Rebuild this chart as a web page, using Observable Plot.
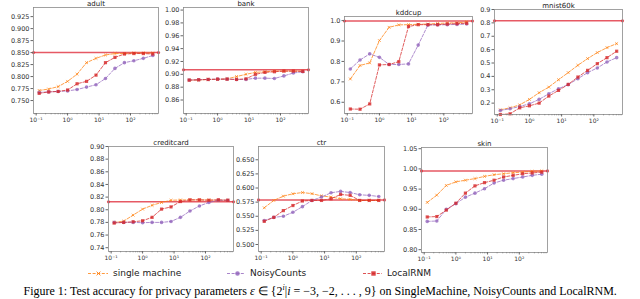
<!DOCTYPE html>
<html><head><meta charset="utf-8">
<script src="https://cdn.jsdelivr.net/npm/d3@7"></script>
<script src="https://cdn.jsdelivr.net/npm/@observablehq/plot@0.6"></script>
<style>
html,body{margin:0;padding:0;background:#fff;width:640px;height:299px;overflow:hidden;position:relative;}
.panel{position:absolute}
.leg{position:absolute;top:268px;font-family:"DejaVu Sans";font-size:9px;color:#222;display:flex;align-items:center;white-space:nowrap}
.leg svg{margin-right:5px}
.cap{position:absolute;top:284px;left:0;font-family:"Liberation Serif";font-size:12px;color:#000;white-space:nowrap;line-height:14px}
.cap sup{font-size:8px;line-height:0;vertical-align:5px}
</style></head><body>
<script>
// ---- data ----
const eps = [0.125, 0.25, 0.5, 1, 2, 4, 8, 16, 32, 64, 128, 256, 512];
const methods = ["single machine", "NoisyCounts", "LocalRNM"];
const datasets = ["adult", "bank", "kddcup", "mnist60k", "creditcard", "ctr", "skin"];
const baselines = [0.850, 0.907, 0.998, 0.815, 0.8125, 0.579, 0.995];

const adultSingle = [0.771,0.774,0.779,0.790,0.805,0.829,0.838,0.845,0.848,0.848,0.849,0.849,0.849];
const adultNoisy  = [0.767,0.768,0.769,0.770,0.773,0.778,0.783,0.796,0.817,0.829,0.833,0.838,0.844];
const adultLocal  = [0.765,0.768,0.769,0.772,0.785,0.790,0.803,0.829,0.840,0.847,0.848,0.848,0.847];

const bankSingle = [0.891,0.891,0.892,0.892,0.893,0.8965,0.900,0.903,0.904,0.905,0.905,0.905,0.905];
const bankNoisy  = [0.891,0.8915,0.892,0.8925,0.8925,0.892,0.892,0.894,0.894,0.8935,0.8975,0.902,0.904];
const bankLocal  = [0.891,0.8915,0.892,0.8925,0.8925,0.892,0.893,0.900,0.903,0.904,0.905,0.905,0.9045];

const kddSingle = [0.714,0.780,0.793,0.902,0.967,0.979,0.980,0.982,0.983,0.986,0.988,0.989,0.993];
const kddNoisy  = [0.763,0.807,0.837,0.820,0.785,0.785,0.788,0.880,0.978,0.979,0.980,0.981,0.983];
const kddLocal  = [0.567,0.566,0.592,0.783,0.785,0.799,0.971,0.980,0.980,0.980,0.983,0.985,0.987];

const mnistSingle = [0.150,0.165,0.187,0.228,0.278,0.320,0.375,0.428,0.483,0.533,0.578,0.615,0.645];
const mnistNoisy  = [0.145,0.158,0.175,0.195,0.228,0.270,0.308,0.338,0.383,0.428,0.463,0.508,0.540];
const mnistLocal  = [0.115,0.120,0.165,0.180,0.200,0.253,0.295,0.340,0.395,0.445,0.495,0.540,0.588];

const creditSingle = [0.780,0.782,0.7915,0.801,0.807,0.8115,0.815,0.8155,0.8155,0.8155,0.8155,0.815,0.815];
const creditNoisy  = [0.780,0.780,0.780,0.7795,0.780,0.780,0.7815,0.788,0.798,0.806,0.8115,0.815,0.815];
const creditLocal  = [0.779,0.780,0.781,0.7826,0.788,0.801,0.8045,0.813,0.8157,0.8157,0.815,0.8157,0.815];

const ctrSingle = [0.565,0.578,0.5856,0.5898,0.592,0.590,0.586,0.584,0.581,0.580,0.578,0.578,0.578];
const ctrNoisy  = [0.5425,0.548,0.550,0.557,0.567,0.578,0.584,0.5916,0.594,0.592,0.588,0.587,0.585];
const ctrLocal  = [0.541,0.548,0.560,0.569,0.577,0.578,0.578,0.581,0.5886,0.587,0.578,0.578,0.578];

const skinSingle = [0.917,0.935,0.959,0.968,0.972,0.976,0.9815,0.9856,0.988,0.9906,0.992,0.994,0.995];
const skinNoisy  = [0.870,0.871,0.900,0.914,0.930,0.940,0.951,0.965,0.972,0.976,0.980,0.984,0.987];
const skinLocal  = [0.881,0.882,0.898,0.915,0.940,0.958,0.966,0.972,0.980,0.984,0.988,0.990,0.992];

const xTicks = [0.1, 1, 10, 100];
const xTickLabels = ["10\u207B\u00B9", "10\u2070", "10\u00B9", "10\u00B2"];
const adultTicks = [0.750,0.775,0.800,0.825,0.850,0.875,0.900,0.925];
const bankTicks = [0.86,0.88,0.90,0.92,0.94,0.96,0.98,1.00];
const kddTicks = [0.6,0.7,0.8,0.9,1.0];
const mnistTicks = [0.2,0.3,0.4,0.5,0.6,0.7,0.8,0.9];
const creditTicks = [0.74,0.76,0.78,0.80,0.82,0.84,0.86,0.88,0.90];
const ctrTicks = [0.500,0.525,0.550,0.575,0.600,0.625,0.650];
const skinTicks = [0.80,0.85,0.90,0.95,1.00,1.05];
const captionText = ["Figure 1: Test accuracy for privacy parameters", "on SingleMachine, NoisyCounts and LocalRNM."];

// ---- layout / style ----
const colors = ["#ff7f0e", "#9467bd", "#d62728"];
const xDomain = [0.0824, 776];
const minorTicks = [];
for (const k of [-2, -1, 0, 1, 2]) for (let m = 2; m <= 9; m++) { const v = m * Math.pow(10, k); if (v > xDomain[0] && v < xDomain[1]) minorTicks.push(v); }

const panels = [
  {series:[adultSingle,adultNoisy,adultLocal], y:[0.723,0.944], ticks:adultTicks, fmt:".3f", frame:[33,158,7,113]},
  {series:[bankSingle,bankNoisy,bankLocal], y:[0.839,1.004], ticks:bankTicks, fmt:".2f", frame:[183,308,7,113]},
  {series:[kddSingle,kddNoisy,kddLocal], y:[0.545,1.02], ticks:kddTicks, fmt:".1f", frame:[344,472,16,113]},
  {series:[mnistSingle,mnistNoisy,mnistLocal], y:[0.115,0.9], ticks:mnistTicks, fmt:".1f", frame:[494,622,9,114]},
  {series:[creditSingle,creditNoisy,creditLocal], y:[0.734,0.90], ticks:creditTicks, fmt:".2f", frame:[108,233,146,251]},
  {series:[ctrSingle,ctrNoisy,ctrLocal], y:[0.4876,0.6735], ticks:ctrTicks, fmt:".3f", frame:[258,384,146,251]},
  {series:[skinSingle,skinNoisy,skinLocal], y:[0.793,1.053], ticks:skinTicks, fmt:".2f", frame:[421,547,147,252]}
];

const ml = 30, mr = 4, mt = 11, mb = 13;

panels.forEach((p, pi) => {
  const rows = [];
  p.series.forEach((s, mi) => s.forEach((v, i) => rows.push({eps: eps[i], acc: v, method: methods[mi]})));
  const base = baselines[pi];
  const [x1, x2, y1, y2] = p.frame;
  const width = x2 - x1 + ml + mr, height = y2 - y1 + mt + mb;
  const fmt = d3.format(p.fmt);
  const chart = Plot.plot({
    width, height, marginLeft: ml, marginRight: mr, marginTop: mt, marginBottom: mb,
    style: {background: "transparent", fontFamily: "DejaVu Sans", color: "#333", overflow: "visible"},
    x: {type: "log", domain: xDomain},
    y: {domain: p.y},
    color: {domain: methods, range: colors},
    marks: [
      Plot.ruleY([base], {stroke: "#e0303d", strokeWidth: 1.5, strokeOpacity: 0.8}),
      Plot.dot(xDomain, {x: d => d, y: () => base, r: 1.6, fill: "#e0303d", fillOpacity: 0.85}),
      Plot.line(rows, {x: "eps", y: "acc", z: "method", stroke: "method", strokeWidth: 1, strokeDasharray: "3,1.6", strokeOpacity: 0.75}),
      Plot.dot(rows.filter(d => d.method === methods[0]), {x: "eps", y: "acc", symbol: "times", r: 1.4, stroke: colors[0], strokeWidth: 0.8, strokeOpacity: 0.85}),
      Plot.dot(rows.filter(d => d.method === methods[1]), {x: "eps", y: "acc", symbol: "circle", r: 1.8, fill: colors[1], fillOpacity: 0.8}),
      Plot.dot(rows.filter(d => d.method === methods[2]), {x: "eps", y: "acc", symbol: "square", r: 1.8, fill: colors[2], fillOpacity: 0.8}),
      Plot.frame({stroke: "#8a8a8a", strokeWidth: 0.8}),
      Plot.axisY({ticks: p.ticks, tickFormat: fmt, tickSize: 2.5, tickPadding: 1.5, fontSize: 6.5, fill: "#333", stroke: "#666", label: null}),
      Plot.axisX({ticks: xTicks, tickFormat: d => xTickLabels[xTicks.indexOf(d)], tickSize: 2.5, tickPadding: 1.5, fontSize: 6, fill: "#333", stroke: "#666", label: null}),
      Plot.axisX({ticks: minorTicks, tickFormat: () => "", tickSize: 1.4, stroke: "#777", strokeWidth: 0.6, label: null}),
      Plot.text([datasets[pi]], {frameAnchor: "top", dy: -2, lineAnchor: "bottom", fontSize: 7, fill: "#222", text: d => d})
    ]
  });
  const div = document.createElement("div");
  div.className = "panel";
  div.style.left = (x1 - ml) + "px";
  div.style.top = (y1 - mt) + "px";
  div.style.width = width + "px";
  div.style.height = height + "px";
  div.appendChild(chart);
  document.body.appendChild(div);
});

// ---- legend ----
const legendPos = [{sw: 88, tx: 113}, {sw: 227, tx: 250}, {sw: 363, tx: 387}];
methods.forEach((m, i) => {
  const d = document.createElement("div");
  d.className = "leg";
  d.style.left = legendPos[i].sw + "px";
  let marker;
  if (i === 0) marker = `<path d="M8.6,2.6L12.4,6.4M12.4,2.6L8.6,6.4" stroke="${colors[0]}" stroke-width="0.9"/>`;
  else if (i === 1) marker = `<circle cx="10.5" cy="4.5" r="2.3" fill="${colors[1]}" fill-opacity="0.85"/>`;
  else marker = `<rect x="8.3" y="2.3" width="4.4" height="4.4" fill="${colors[2]}" fill-opacity="0.85"/>`;
  d.innerHTML = `<svg width="${legendPos[i].tx - legendPos[i].sw - 5}" height="9"><line x1="0" x2="20" y1="4.5" y2="4.5" stroke="${colors[i]}" stroke-width="1.1" stroke-dasharray="3,1.6" stroke-opacity="0.8"/>${marker}</svg><span>${m}</span>`;
  document.body.appendChild(d);
});

// ---- caption ----
const cap = document.createElement("div");
cap.className = "cap";
cap.innerHTML = captionText[0] + " <i>\u03B5</i> \u2208 {2<sup><i>i</i></sup>|<i>i</i> = \u22123, \u22122, . . . , 9} " + captionText[1];
document.body.appendChild(cap);
let fs = 12;
while (cap.scrollWidth > 636 && fs > 8) { fs -= 0.25; cap.style.fontSize = fs + "px"; }
cap.style.left = Math.max(0, (640 - cap.scrollWidth) / 2) + "px";
</script>
</body></html>
